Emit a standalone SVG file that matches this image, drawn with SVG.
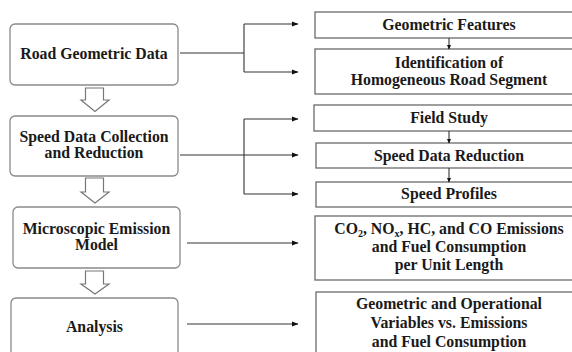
<svg xmlns="http://www.w3.org/2000/svg" width="572" height="352" viewBox="0 0 572 352">
<defs>
<marker id="ah" markerWidth="7" markerHeight="6" refX="6.5" refY="3" orient="auto" markerUnits="userSpaceOnUse">
<path d="M0,0.3 L7,3 L0,5.7 Z" fill="#111"/>
</marker>
<marker id="ahs" markerWidth="5" markerHeight="5" refX="4.5" refY="2.5" orient="auto" markerUnits="userSpaceOnUse">
<path d="M0,0.3 L5,2.5 L0,4.7 Z" fill="#111"/>
</marker>
<style>
.lb{fill:#fff;stroke:#8a8a8a;stroke-width:1.3}
.rb{fill:#fff;stroke:#6a6a6a;stroke-width:1.3}
.t{font-family:'Liberation Serif','DejaVu Serif',serif;font-weight:bold;font-size:15.8px;fill:#1a1a1a;text-anchor:middle}
.c{fill:none;stroke:#333;stroke-width:1.1}
.ha{fill:#fff;stroke:#777;stroke-width:1.2}
.s{font-size:10px}
</style>
</defs>
<rect width="572" height="352" fill="#fff"/>

<g id="road-geometric-data">
<rect class="lb" x="10" y="24" width="168" height="61" rx="5"/>
<text class="t" x="94" y="59">Road Geometric Data</text>
</g>
<g id="speed-data-collection">
<rect class="lb" x="10" y="116" width="168" height="60" rx="5"/>
<text class="t" x="94" y="142">Speed Data Collection</text>
<text class="t" x="94" y="158">and Reduction</text>
</g>
<g id="microscopic-emission-model">
<rect class="lb" x="13" y="207" width="167" height="61" rx="5"/>
<text class="t" x="96.5" y="234">Microscopic Emission</text>
<text class="t" x="96.5" y="250">Model</text>
</g>
<g id="analysis">
<rect class="lb" x="11" y="298" width="167" height="70" rx="5"/>
<text class="t" x="94.5" y="332">Analysis</text>
</g>

<g id="geometric-features">
<rect class="rb" x="315" y="12" width="270" height="26"/>
<text class="t" x="449" y="30">Geometric Features</text>
</g>
<g id="identification">
<rect class="rb" x="315" y="49" width="270" height="45"/>
<text class="t" x="449" y="68">Identification of</text>
<text class="t" x="449" y="85">Homogeneous Road Segment</text>
</g>
<g id="field-study">
<rect class="rb" x="314" y="105" width="270" height="26"/>
<text class="t" x="449" y="123">Field Study</text>
</g>
<g id="speed-data-reduction">
<rect class="rb" x="316" y="143" width="270" height="25"/>
<text class="t" x="449" y="161">Speed Data Reduction</text>
</g>
<g id="speed-profiles">
<rect class="rb" x="316" y="182" width="270" height="25"/>
<text class="t" x="449" y="199">Speed Profiles</text>
</g>
<g id="emissions">
<rect class="rb" x="315" y="216" width="270" height="64"/>
<text class="t" x="449" y="234">CO<tspan class="s" dy="3">2</tspan><tspan dy="-3">, NO</tspan><tspan class="s" dy="3">x</tspan><tspan dy="-3">, HC, and CO Emissions</tspan></text>
<text class="t" x="449" y="252">and Fuel Consumption</text>
<text class="t" x="449" y="270">per Unit Length</text>
</g>
<g id="variables-vs-emissions">
<rect class="rb" x="316" y="292" width="270" height="80"/>
<text class="t" x="449" y="309">Geometric and Operational</text>
<text class="t" x="449" y="328">Variables vs. Emissions</text>
<text class="t" x="449" y="347">and Fuel Consumption</text>
</g>

<g id="connectors">
<polyline class="c" points="180,53 244,53"/>
<polyline class="c" points="244,24 244,72"/>
<line class="c" x1="244" y1="24" x2="298" y2="24" marker-end="url(#ah)"/>
<line class="c" x1="244" y1="72" x2="298" y2="72" marker-end="url(#ah)"/>
<polyline class="c" points="244,119 244,194"/>
<line class="c" x1="244" y1="119" x2="298" y2="119" marker-end="url(#ah)"/>
<line class="c" x1="180" y1="155" x2="298" y2="155" marker-end="url(#ah)"/>
<line class="c" x1="244" y1="194" x2="298" y2="194" marker-end="url(#ah)"/>
<line class="c" x1="187" y1="243" x2="298" y2="243" marker-end="url(#ah)"/>
<line class="c" x1="187" y1="324" x2="298" y2="324" marker-end="url(#ah)"/>
<line class="c" x1="449" y1="38" x2="449" y2="49" marker-end="url(#ahs)"/>
<line class="c" x1="449" y1="131" x2="449" y2="143" marker-end="url(#ahs)"/>
<line class="c" x1="449" y1="168" x2="449" y2="182" marker-end="url(#ahs)"/>
<polygon class="ha" points="85.5,88 103.5,88 103.5,100 109,100 95,111.5 81,100 85.5,100"/>
<polygon class="ha" points="85.5,178 103.5,178 103.5,192 109,192 95,203 81,192 85.5,192"/>
<polygon class="ha" points="85.5,271 103.5,271 103.5,284 109,284 95,294 81,284 85.5,284"/>
</g>
</svg>
